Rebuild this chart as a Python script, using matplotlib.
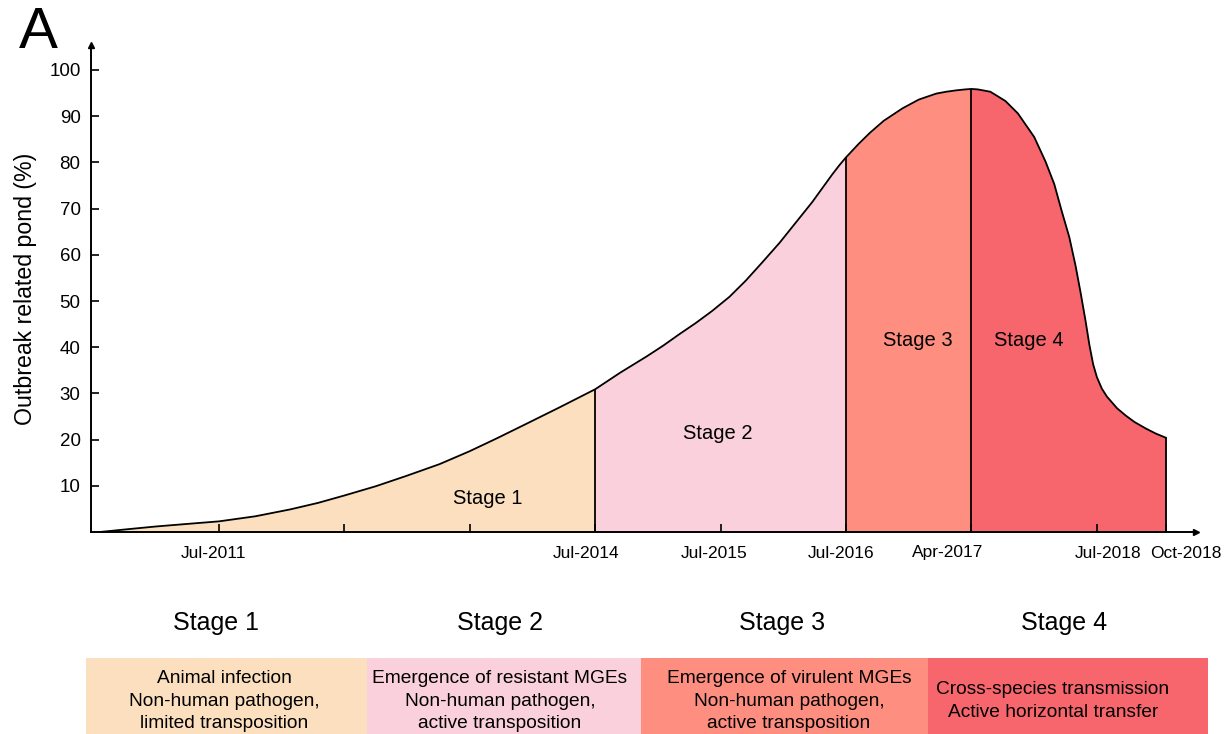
import matplotlib.pyplot as plt
from matplotlib.patches import Rectangle
import numpy as np

plt.rcParams['font.family'] = ['Liberation Sans', 'DejaVu Sans']

# curve (x in tick units, y in %)
curve_x = [0.05, 0.29, 0.5, 0.77, 1.0, 1.29, 1.57, 1.79, 2.0, 2.25, 2.49, 2.76, 3.0, 3.21, 3.42, 3.71, 4.0,
           4.2, 4.41, 4.54, 4.67, 4.8, 4.93, 5.07, 5.2, 5.33, 5.47, 5.6, 5.73, 5.81, 5.89, 5.95, 6.0,
           6.1, 6.19, 6.3, 6.45, 6.58, 6.72, 6.8, 6.88, 6.95, 7.0,
           7.05, 7.15, 7.27, 7.37, 7.5, 7.59, 7.66, 7.72, 7.78, 7.83, 7.87, 7.91, 7.94, 7.97, 8.0, 8.04,
           8.08, 8.16, 8.23, 8.3, 8.39, 8.47, 8.55]
curve_y = [0.0, 0.65, 1.2, 1.8, 2.3, 3.4, 4.9, 6.3, 7.9, 9.9, 12.1, 14.7, 17.5, 20.2, 23.0, 26.9, 30.9,
           34.5, 38.0, 40.3, 42.8, 45.2, 47.8, 50.9, 54.4, 58.3, 62.6, 67.0, 71.4, 74.4, 77.4, 79.5, 81.1,
           84.0, 86.4, 89.0, 91.7, 93.6, 94.9, 95.3, 95.6, 95.8, 95.9,
           95.8, 95.3, 93.3, 90.6, 85.5, 80.2, 75.3, 69.4, 63.8, 57.6, 51.8, 45.6, 40.5, 36.3, 33.5, 31.0,
           29.3, 26.8, 25.2, 23.8, 22.4, 21.3, 20.4]

tick_pos = [1, 2, 3, 4, 5, 6, 7, 8, 8.55]
date_labels = ['Jul-2011', 'Jul-2014', 'Jul-2015', 'Jul-2016', 'Apr-2017', 'Jul-2018', 'Oct-2018']
date_label_pos = [0.96, 3.93, 4.95, 5.96, 6.81, 8.09, 8.71]

stage_bounds = [0.0, 4.0, 6.0, 7.0, 8.55]
stage_names = ['Stage 1', 'Stage 2', 'Stage 3', 'Stage 4']
stage_colors = ['#FBDFBF', '#F9D0DC', '#FE8E80', '#F6666C']
stage_label_xy = [(3.14, 7.3), (4.98, 21.3), (6.57, 41.5), (7.46, 41.5)]
stage_desc = ['Animal infection\nNon-human pathogen,\nlimited transposition',
              'Emergence of resistant MGEs\nNon-human pathogen,\nactive transposition',
              'Emergence of virulent MGEs\nNon-human pathogen,\nactive transposition',
              'Cross-species transmission\nActive horizontal transfer']

W, H = 1229, 734
fig = plt.figure(figsize=(W / 100, H / 100), dpi=100)

# main plot, placed in pixels
left, right, base, top = 91, 1196, 532, 45
ax = fig.add_axes([left / W, (H - base) / H, (right - left) / W, (base - top) / H])
ax.set_xlim(-0.02, 8.79)
ax.set_ylim(0, (base - top) / 4.62)

cx = np.array(curve_x)
cy = np.array(curve_y)
for i in range(4):
    m = (cx >= stage_bounds[i]) & (cx <= stage_bounds[i + 1])
    ax.fill_between(cx[m], 0, cy[m], color=stage_colors[i], lw=0)
ax.plot(cx, cy, color='black', lw=1.3, solid_joinstyle='round')
bx = [4.0, 6.0, 7.0, 8.55]
ax.vlines(bx, 0, np.interp(bx, cx, cy), color='black', lw=1.3)

for name, (sx, sy) in zip(stage_names, stage_label_xy):
    ax.text(sx, sy, name, ha='center', va='center', fontsize=14.5)

ax.spines['top'].set_visible(False)
ax.spines['right'].set_visible(False)
ax.spines['left'].set_linewidth(1.4)
ax.spines['bottom'].set_linewidth(1.4)
ax.plot(1, 0, '>k', transform=ax.transAxes, clip_on=False, ms=4)
ax.plot(0, 1, '^k', transform=ax.transAxes, clip_on=False, ms=4)

ax.set_yticks(range(10, 101, 10))
ax.tick_params(axis='y', direction='in', length=6, width=1.2, labelsize=13.5, pad=7.5)
ax.set_xticks(tick_pos)
ax.set_xticklabels([])
ax.tick_params(axis='x', direction='in', length=6, width=1.2)
# date labels sit slightly off their ticks in the original
for lab, xp in zip(date_labels, date_label_pos):
    ax.text(xp, -21 / (base - top), lab, transform=ax.get_xaxis_transform(),
            ha='center', va='center', fontsize=12.5)
ax.set_ylabel('Outbreak related pond (%)', fontsize=16.7, labelpad=9)

fig.text(19 / W, 1 - 33 / H, 'A', fontsize=42, va='center', ha='left')

# stage boxes below the chart
ov = fig.add_axes([0, 0, 1, 1])
ov.set_xlim(0, W)
ov.set_ylim(H, 0)
ov.axis('off')
box_edges = [86, 367, 641, 928, 1208]
head_x = [216, 500, 782, 1064]
desc_x = [224, 500, 789, 1053]
for i in range(4):
    x0, x1 = box_edges[i], box_edges[i + 1]
    ov.add_patch(Rectangle((x0, 658), x1 - x0, H - 658, color=stage_colors[i], lw=0))
    ov.text(head_x[i], 623, stage_names[i], ha='center', va='center', fontsize=18)
    ov.text(desc_x[i], 701, stage_desc[i], ha='center', va='center', fontsize=13.8, linespacing=1.45)

fig.savefig('out.png', dpi=100)
